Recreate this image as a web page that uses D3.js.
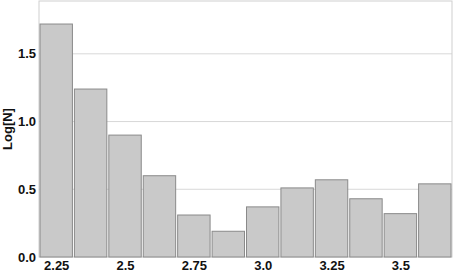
<!DOCTYPE html>
<html>
<head>
<meta charset="utf-8">
<script src="https://cdn.jsdelivr.net/npm/d3@7"></script>
<style>
  body { margin: 0; background: #fff; }
  svg { display: block; font-family: "Liberation Sans", Arial, sans-serif; }
  .tick text { font-weight: bold; font-size: 13px; fill: #111; }
</style>
</head>
<body>
<svg id="chart" width="455" height="273"></svg>
<script>
// bin centres and log counts
const binCenters = [2.25, 2.375, 2.5, 2.625, 2.75, 2.875, 3.0, 3.125, 3.25, 3.375, 3.5, 3.625];
const logN = [1.72, 1.24, 0.90, 0.60, 0.31, 0.19, 0.37, 0.51, 0.57, 0.43, 0.32, 0.54];
const xTicks = [2.25, 2.5, 2.75, 3.0, 3.25, 3.5];
const yTicks = [0.0, 0.5, 1.0, 1.5];
const binWidth = 0.125;

const svg = d3.select("#chart");
const margin = {top: 1, right: 3, bottom: 16, left: 39};
const width = +svg.attr("width") - margin.left - margin.right,
      height = +svg.attr("height") - margin.top - margin.bottom;

const x = d3.scaleLinear()
    .domain([binCenters[0] - binWidth / 2, binCenters[binCenters.length - 1] + binWidth / 2])
    .range([0, width]);
const y = d3.scaleLinear().domain([0, 1.89]).range([height, 0]);

const g = svg.append("g").attr("transform", `translate(${margin.left},${margin.top})`);

// grid lines
g.selectAll("line.grid")
    .data(yTicks.slice(1))
    .enter()
    .append("line")
    .attr("x1", 0).attr("x2", width)
    .attr("y1", d => y(d)).attr("y2", d => y(d))
    .attr("stroke", "#d8d8d8")
    .attr("stroke-width", 1);

// frame
g.append("rect")
    .attr("x", 0).attr("y", 0)
    .attr("width", width).attr("height", height)
    .attr("fill", "none")
    .attr("stroke", "#cfcfcf");

// bars
g.selectAll("rect.bar")
    .data(binCenters)
    .enter()
    .append("rect")
    .attr("class", "bar")
    .attr("x", d => x(d - binWidth / 2) + 1)
    .attr("width", x(binWidth) - x(0) - 2)
    .attr("y", (d, i) => y(logN[i]))
    .attr("height", (d, i) => height - y(logN[i]))
    .attr("fill", "#c9c9c9")
    .attr("stroke", "#8a8a8a")
    .attr("stroke-width", 1);

const xAxis = g.append("g")
    .attr("transform", `translate(0,${height})`)
    .call(d3.axisBottom(x).tickValues(xTicks).tickSize(0).tickPadding(4)
        .tickFormat(d => d === 3 ? "3.0" : String(d)));
xAxis.select(".domain").remove();

const yAxis = g.append("g")
    .call(d3.axisLeft(y).tickValues(yTicks).tickSize(0).tickPadding(3)
        .tickFormat(d3.format(".1f")));
yAxis.select(".domain").remove();

svg.append("text")
    .attr("transform", `translate(12,${margin.top + height / 2}) rotate(-90)`)
    .attr("text-anchor", "middle")
    .attr("font-weight", "bold")
    .attr("font-size", "13px")
    .attr("fill", "#111")
    .text("Log[N]");
</script>
</body>
</html>
